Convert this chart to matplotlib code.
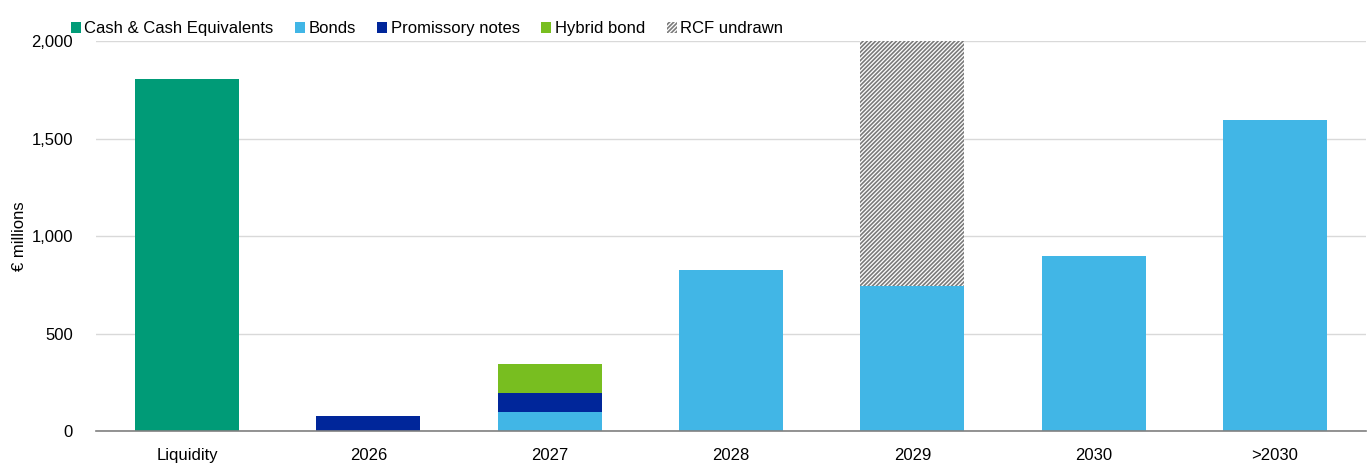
import numpy as np
import matplotlib as mpl
mpl.use('Agg')
import matplotlib.pyplot as plt

plt.rcParams['font.family'] = ['Liberation Sans', 'DejaVu Sans']
plt.rcParams['hatch.linewidth'] = 1.2
plt.rcParams['hatch.color'] = '#7a7a7a'

categories = ['Liquidity', '2026', '2027', '2028', '2029', '2030', '>2030']
cash = [1805, 0, 0, 0, 0, 0, 0]
bonds = [0, 0, 100, 825, 745, 900, 1595]
promissory = [0, 75, 95, 0, 0, 0, 0]
hybrid = [0, 0, 150, 0, 0, 0, 0]
rcf = [0, 0, 0, 0, 1255, 0, 0]

x = np.arange(len(categories))
w = 0.575

fig = plt.figure(figsize=(13.67, 4.66), dpi=100)
ax = fig.add_axes([0.0705, 0.075, 0.9285, 0.837])

bottom = np.zeros(len(categories))
ax.bar(x, cash, w, bottom=bottom, color='#009B77', label='Cash & Cash Equivalents', zorder=3)
bottom += cash
ax.bar(x, bonds, w, bottom=bottom, color='#41B6E6', label='Bonds', zorder=3)
bottom += bonds
ax.bar(x, promissory, w, bottom=bottom, color='#00269A', label='Promissory notes', zorder=3)
bottom += promissory
ax.bar(x, hybrid, w, bottom=bottom, color='#78BE20', label='Hybrid bond', zorder=3)
bottom += hybrid
ax.bar(x, rcf, w, bottom=bottom, color='white', edgecolor='#7a7a7a', linewidth=0,
       hatch='////////', label='RCF undrawn', zorder=3)

ax.set_xlim(-0.5, len(categories) - 0.5)
ax.set_ylim(0, 2000)
ax.set_yticks([0, 500, 1000, 1500, 2000])
ax.set_yticklabels(['0', '500', '1,000', '1,500', '2,000'])
ax.set_xticks(x)
ax.set_xticklabels(categories)
ax.tick_params(length=0, labelsize=12, colors='#000000', pad=12)
ax.tick_params(axis='y', pad=17)
ax.yaxis.grid(True, color='#D9D9D9', linewidth=1, zorder=0)
for s in ['top', 'right', 'left']:
    ax.spines[s].set_visible(False)
ax.spines['bottom'].set_color('#808080')
ax.spines['bottom'].set_linewidth(1.2)
ax.spines['bottom'].set_zorder(4)
ax.set_ylabel('€ millions', fontsize=12)
ax.yaxis.set_label_coords(-0.055, 0.5)

ax.legend(loc='upper left', bbox_to_anchor=(-0.0255, 1.068), ncol=5, frameon=False,
          fontsize=12, handlelength=0.6, handleheight=0.6, handletextpad=0.2,
          columnspacing=1.3, borderaxespad=0)

plt.savefig('out.png', dpi=100)
